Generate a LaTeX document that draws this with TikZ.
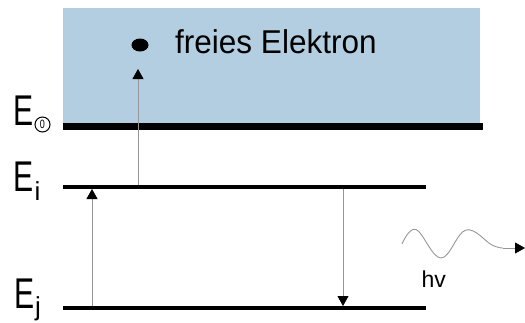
\documentclass[tikz,border=0pt]{standalone}
\usepackage{fontspec}
\setmainfont{Liberation Sans}
\usetikzlibrary{arrows.meta,shapes.geometric}
\definecolor{vacuum}{RGB}{178,206,224}
\definecolor{ray}{RGB}{150,150,150}
\begin{document}
\begin{tikzpicture}[x=1pt,y=-1pt,
  level/.style={line width=4pt, black},
  vaclevel/.style={line width=7pt, black},
  trans/.style={draw=ray, line width=0.9pt, -{Triangle[length=10pt,width=11pt,black]}},
  wave/.style={draw=ray, line width=0.9pt},
  elabel/.style={anchor=base west, inner sep=0pt, font=\fontsize{43}{43}\selectfont},
  sublabel/.style={anchor=base west, inner sep=0pt, font=\fontsize{26}{26}\selectfont},
  ringzero/.style={circle, draw, line width=1pt, inner sep=0pt, minimum size=15pt,
                   font=\fontsize{12}{12}\selectfont},
  bigtext/.style={anchor=base west, inner sep=0pt, font=\fontsize{33}{33}\selectfont},
  electron/.style={ellipse, fill=black, inner sep=0pt, minimum width=17pt, minimum height=13pt}]
\useasboundingbox (0,0) rectangle (525,322);

% continuum of free states above the vacuum level
\fill[vacuum] (63,8) rectangle (480,124);

% energy levels
\coordinate (v0) at (63,126.5);  \coordinate (v1) at (483,126.5);
\coordinate (i0) at (63,187);    \coordinate (i1) at (426,187);
\coordinate (j0) at (63,308);    \coordinate (j1) at (426,308);
\draw[vaclevel] (v0) -- (v1);
\draw[level] (i0) -- (i1);
\draw[level] (j0) -- (j1);

% level labels
\node[elabel] (e0) at (13.5,125) {\scalebox{0.7}[1]{E}};
\node[ringzero] (z0) at (42.5,124.5) {\scalebox{0.75}[1]{0}};
\node[elabel] (ei) at (13.5,191) {\scalebox{0.7}[1]{E}};
\node[sublabel] (si) at (34.5,200) {i};
\node[elabel] (ej) at (14.5,308) {\scalebox{0.7}[1]{E}};
\node[sublabel] (sj) at (35,315.5) {j};

% free electron
\node[electron] (el) at (140,45) {};
\node[bigtext] (ft) at (175,53) {\scalebox{0.955}[1]{freies Elektron}};

% transitions
\coordinate (a0) at (92,306);   \coordinate (a1) at (92,189);
\coordinate (b0) at (138,185);  \coordinate (b1) at (138,69);
\coordinate (c0) at (343,189);  \coordinate (c1) at (343,306);
\draw[trans] (a0) -- (a1);
\draw[trans] (b0) -- (b1);
\draw[trans] (c0) -- (c1);

% emitted photon
\coordinate (w0) at (402,244);
\coordinate (w1) at (416,229.5);
\coordinate (w2) at (441,258);
\coordinate (w3) at (466,230);
\coordinate (w4) at (492,245);
\coordinate (w5) at (503,248);
\coordinate (w6) at (525,248);
\draw[wave] plot[smooth, tension=0.65] coordinates {(w0) (w1) (w2) (w3) (w4) (w5)};
\draw[trans] (w5) -- (w6);
\node[anchor=base west, inner sep=0pt, font=\fontsize{23}{23}\selectfont] (hv) at (421.5,287) {hv};
\end{tikzpicture}
\end{document}
